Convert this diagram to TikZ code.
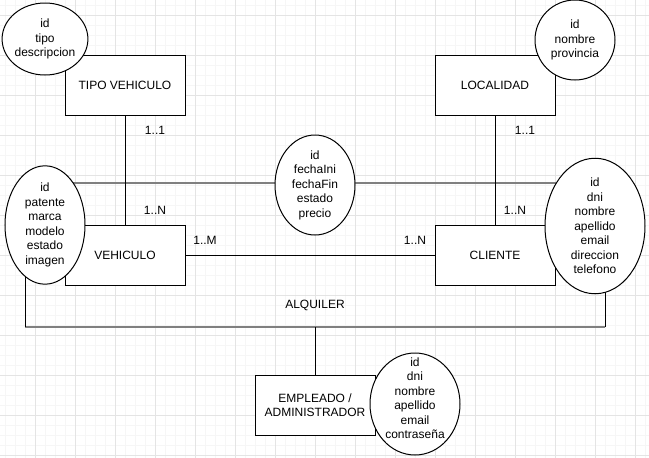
\documentclass[tikz,border=0pt]{standalone}
\usepackage{fontspec}
\setmainfont{Liberation Sans}
\usetikzlibrary{shapes.geometric}
\definecolor{gridminor}{RGB}{246,246,246}
\definecolor{gridmajor}{RGB}{228,228,228}
\definecolor{relgray}{RGB}{128,128,128}
\tikzset{
  entity/.style={draw, fill=white, minimum width=120pt, minimum height=60pt, align=center},
  attr/.style={ellipse, draw, fill=white, inner sep=0pt, align=center},
  card/.style={inner sep=0pt},
}
\begin{document}
\begin{tikzpicture}[x=1pt, y=-1pt, line width=1pt, font=\fontsize{12}{14.5}\selectfont]
        \useasboundingbox (0,0) rectangle (649,458);

        % grid
        \foreach \x in {5,15,...,645} \draw[gridminor] (\x,0) -- (\x,458);
        \foreach \y in {5,15,...,455} \draw[gridminor] (0,\y) -- (649,\y);
        \foreach \x in {35,75,...,635} \draw[gridmajor] (\x,0) -- (\x,458);
        \foreach \y in {15,55,...,455} \draw[gridmajor] (0,\y) -- (649,\y);

        % relationship
        \node[minimum width=580pt, minimum height=144pt, outer sep=0pt] (alq) at (315,255) {};
        \draw[relgray, line width=2pt] (alq.north west) -- (alq.north east);
        \draw[relgray, line width=2pt] (alq.south west) -- (alq.south east);
        \draw (alq.north west) -- (alq.south west);
        \draw (alq.north east) -- (alq.south east);
        \node (alqtxt) at (315,305) {ALQUILER};

        % entities
        \node[entity] (tipo) at (125,85) {TIPO VEHICULO};
        \node[entity] (localidad) at (495,85) {LOCALIDAD};
        \node[entity] (vehiculo) at (125,255) {VEHICULO};
        \node[entity] (cliente) at (495,255) {CLIENTE};
        \node[entity] (empleado) at (315,405) {EMPLEADO /\\ADMINISTRADOR};

        \draw (tipo) -- (vehiculo);
        \draw (localidad) -- (cliente);
        \draw (vehiculo) -- (cliente);
        \draw (alq.south) -- (empleado);

        % cardinalities
        \node[card] (c1) at (155,130) {1..1};
        \node[card] (c2) at (155,210) {1..N};
        \node[card] (c3) at (525,130) {1..1};
        \node[card] (c4) at (515,210) {1..N};
        \node[card] (c5) at (205,240) {1..M};
        \node[card] (c6) at (415,240) {1..N};

        % attributes
        \node[attr, minimum width=80pt, minimum height=72pt] (tipoattr) at (45,39) {id\\tipo\\descripcion};
        \node[attr, minimum width=80pt, minimum height=80pt] (locattr) at (575,40) {id\\nombre\\provincia};
        \node[attr, minimum width=80pt, minimum height=100pt] (vehattr) at (45,225) {id\\patente\\marca\\modelo\\estado\\imagen};
        \node[attr, minimum width=80pt, minimum height=100pt] (alqattr) at (315,185) {id\\fechaIni\\fechaFin\\estado\\precio};
        \node[attr, minimum width=100pt, minimum height=118pt] (cliattr) at (595,226) {id\\dni\\nombre\\apellido\\email\\direccion\\telefono};
        \node[attr, minimum width=90pt, minimum height=102pt,
              label={[align=center, yshift=6pt]center:id\\dni\\nombre\\apellido\\email\\contraseña}] (empattr) at (415,404) {};
\end{tikzpicture}
\end{document}
